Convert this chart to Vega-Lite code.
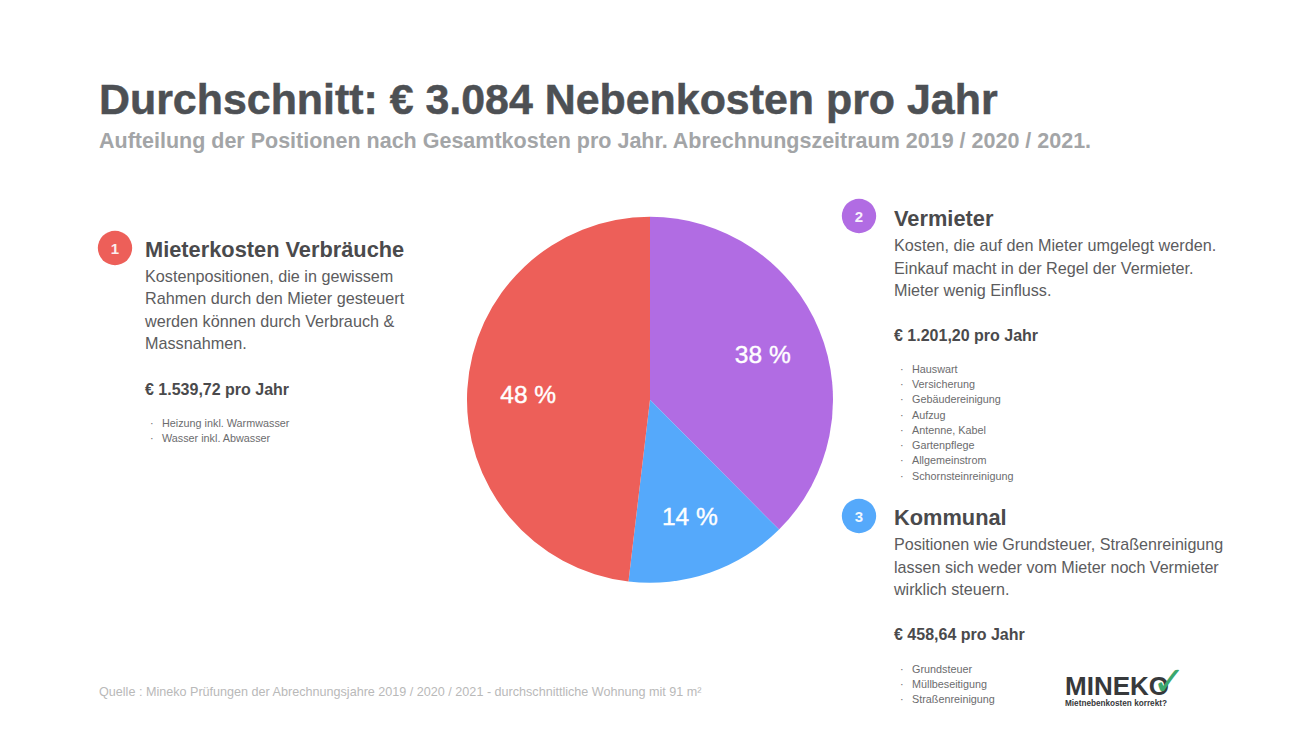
{
"$schema":"https://vega.github.io/schema/vega-lite/v6.json",
"width":1300,"height":731,"padding":0,
"autosize":{"type":"fit","contains":"padding"},
"background":"white",
"view":{"stroke":null},
"datasets":{"shares":[
{"block":"Vermieter","amount":1201.20,"label":"38 %","rank":1},
{"block":"Kommunal","amount":458.64,"label":"14 %","rank":2},
{"block":"Mieterkosten Verbräuche","amount":1539.72,"label":"48 %","rank":3}
]},
"config":{"text":{"font":"Liberation Sans","align":"left","baseline":"middle"}},
"resolve":{"scale":{"y":"independent"}},
"layer":[
{"data":{"name":"shares"},"mark":{"type":"arc","outerRadius":183},
 "encoding":{"x":{"datum":650,"type":"quantitative","scale":{"domain":[0,1300]},"axis":null},
 "y":{"datum":399.8,"type":"quantitative","scale":{"domain":[731,0]},"axis":null},
 "theta":{"field":"amount","type":"quantitative","stack":true},
 "order":{"field":"rank","type":"quantitative"},
 "color":{"field":"block","type":"nominal","legend":null,"scale":{"domain":["Mieterkosten Verbräuche","Vermieter","Kommunal"],"range":["#ed5f59","#b16ce3","#55a9fb"]}}}},
{"data":{"name":"shares"},"mark":{"type":"text","radius":122,"align":"center","dy":3,"fontSize":24.5,"color":"white","stroke":"white","strokeWidth":0.4},
 "encoding":{"x":{"datum":650,"type":"quantitative","axis":null},
 "y":{"datum":399.8,"type":"quantitative","scale":{"domain":[731,0]},"axis":null},
 "theta":{"field":"amount","type":"quantitative","stack":true},
 "order":{"field":"rank","type":"quantitative"},
 "text":{"field":"label"}}},
{"data":{"values":[{"t":"Durchschnitt: € 3.084 Nebenkosten pro Jahr"}]},"mark":{"type":"text","fontSize":42.9,"fontWeight":"bold","color":"#4d5054","stroke":"#4d5054","strokeWidth":0.5},
 "encoding":{"x":{"datum":99,"type":"quantitative","axis":null},"y":{"datum":101,"type":"quantitative","scale":{"domain":[731,0]},"axis":null},"text":{"field":"t"}}},
{"data":{"values":[{"t":"Aufteilung der Positionen nach Gesamtkosten pro Jahr. Abrechnungszeitraum 2019 / 2020 / 2021."}]},"mark":{"type":"text","fontSize":21.5,"fontWeight":"bold","color":"#a3a5a7"},
 "encoding":{"x":{"datum":99,"type":"quantitative","axis":null},"y":{"datum":142,"type":"quantitative","scale":{"domain":[731,0]},"axis":null},"text":{"field":"t"}}},
{"data":{"values":[{"t":"Quelle : Mineko Prüfungen der Abrechnungsjahre 2019 / 2020 / 2021 - durchschnittliche Wohnung mit 91 m²"}]},"mark":{"type":"text","fontSize":12.6,"color":"#b9b9b9"},
 "encoding":{"x":{"datum":99,"type":"quantitative","axis":null},"y":{"datum":691.5,"type":"quantitative","scale":{"domain":[731,0]},"axis":null},"text":{"field":"t"}}},

{"data":{"values":[{"n":"1"}]},"mark":{"type":"point","filled":true,"opacity":1,"size":1180,"color":"#ed5f59"},
 "encoding":{"x":{"datum":115,"type":"quantitative","axis":null},"y":{"datum":248,"type":"quantitative","scale":{"domain":[731,0]},"axis":null}}},
{"data":{"values":[{"n":"1"}]},"mark":{"type":"text","align":"center","fontSize":15,"fontWeight":"bold","color":"#fbeeee"},
 "encoding":{"x":{"datum":115,"type":"quantitative","axis":null},"y":{"datum":249,"type":"quantitative","scale":{"domain":[731,0]},"axis":null},"text":{"field":"n"}}},
{"data":{"values":[{"n":"2"}]},"mark":{"type":"point","filled":true,"opacity":1,"size":1180,"color":"#b16ce3"},
 "encoding":{"x":{"datum":859,"type":"quantitative","axis":null},"y":{"datum":216,"type":"quantitative","scale":{"domain":[731,0]},"axis":null}}},
{"data":{"values":[{"n":"2"}]},"mark":{"type":"text","align":"center","fontSize":15,"fontWeight":"bold","color":"#f8f0fc"},
 "encoding":{"x":{"datum":859,"type":"quantitative","axis":null},"y":{"datum":217,"type":"quantitative","scale":{"domain":[731,0]},"axis":null},"text":{"field":"n"}}},
{"data":{"values":[{"n":"3"}]},"mark":{"type":"point","filled":true,"opacity":1,"size":1180,"color":"#55a9fb"},
 "encoding":{"x":{"datum":859,"type":"quantitative","axis":null},"y":{"datum":516,"type":"quantitative","scale":{"domain":[731,0]},"axis":null}}},
{"data":{"values":[{"n":"3"}]},"mark":{"type":"text","align":"center","fontSize":15,"fontWeight":"bold","color":"#f0f7ff"},
 "encoding":{"x":{"datum":859,"type":"quantitative","axis":null},"y":{"datum":517,"type":"quantitative","scale":{"domain":[731,0]},"axis":null},"text":{"field":"n"}}},

{"data":{"values":[{"t":"Mieterkosten Verbräuche"}]},"mark":{"type":"text","fontSize":21.8,"fontWeight":"bold","color":"#4a4a4c"},
 "encoding":{"x":{"datum":145,"type":"quantitative","axis":null},"y":{"datum":249.5,"type":"quantitative","scale":{"domain":[731,0]},"axis":null},"text":{"field":"t"}}},
{"data":{"values":[{"t":"Kostenpositionen, die in gewissem","line":0},{"t":"Rahmen durch den Mieter gesteuert","line":1},{"t":"werden können durch Verbrauch &","line":2},{"t":"Massnahmen.","line":3}]},"mark":{"type":"text","fontSize":16.2,"color":"#5c5c5e"},
 "encoding":{"x":{"datum":145,"type":"quantitative","axis":null},"y":{"field":"line","type":"quantitative","scale":{"domain":[0,3],"range":[277,344]},"axis":null},"text":{"field":"t"}}},
{"data":{"values":[{"t":"€ 1.539,72 pro Jahr"}]},"mark":{"type":"text","fontSize":16,"fontWeight":"bold","color":"#4a4a4c"},
 "encoding":{"x":{"datum":145,"type":"quantitative","axis":null},"y":{"datum":389.5,"type":"quantitative","scale":{"domain":[731,0]},"axis":null},"text":{"field":"t"}}},
{"data":{"values":[{"t":"·\u2002\u00a0Heizung inkl. Warmwasser","line":0},{"t":"·\u2002\u00a0Wasser inkl. Abwasser","line":1}]},"mark":{"type":"text","fontSize":10.8,"color":"#6c6c6e"},
 "encoding":{"x":{"datum":150,"type":"quantitative","axis":null},"y":{"field":"line","type":"quantitative","scale":{"domain":[0,1],"range":[423.5,438.7]},"axis":null},"text":{"field":"t"}}},

{"data":{"values":[{"t":"Vermieter"}]},"mark":{"type":"text","fontSize":21.8,"fontWeight":"bold","color":"#4a4a4c"},
 "encoding":{"x":{"datum":894,"type":"quantitative","axis":null},"y":{"datum":218.5,"type":"quantitative","scale":{"domain":[731,0]},"axis":null},"text":{"field":"t"}}},
{"data":{"values":[{"t":"Kosten, die auf den Mieter umgelegt werden.","line":0},{"t":"Einkauf macht in der Regel der Vermieter.","line":1},{"t":"Mieter wenig Einfluss.","line":2}]},"mark":{"type":"text","fontSize":16.2,"color":"#5c5c5e"},
 "encoding":{"x":{"datum":894,"type":"quantitative","axis":null},"y":{"field":"line","type":"quantitative","scale":{"domain":[0,2],"range":[246,291]},"axis":null},"text":{"field":"t"}}},
{"data":{"values":[{"t":"€ 1.201,20 pro Jahr"}]},"mark":{"type":"text","fontSize":16,"fontWeight":"bold","color":"#4a4a4c"},
 "encoding":{"x":{"datum":894,"type":"quantitative","axis":null},"y":{"datum":336,"type":"quantitative","scale":{"domain":[731,0]},"axis":null},"text":{"field":"t"}}},
{"data":{"values":[{"t":"·\u2002\u00a0Hauswart","line":0},{"t":"·\u2002\u00a0Versicherung","line":1},{"t":"·\u2002\u00a0Gebäudereinigung","line":2},{"t":"·\u2002\u00a0Aufzug","line":3},{"t":"·\u2002\u00a0Antenne, Kabel","line":4},{"t":"·\u2002\u00a0Gartenpflege","line":5},{"t":"·\u2002\u00a0Allgemeinstrom","line":6},{"t":"·\u2002\u00a0Schornsteinreinigung","line":7}]},"mark":{"type":"text","fontSize":10.8,"color":"#6c6c6e"},
 "encoding":{"x":{"datum":900,"type":"quantitative","axis":null},"y":{"field":"line","type":"quantitative","scale":{"domain":[0,7],"range":[370,476.5]},"axis":null},"text":{"field":"t"}}},

{"data":{"values":[{"t":"Kommunal"}]},"mark":{"type":"text","fontSize":21.8,"fontWeight":"bold","color":"#4a4a4c"},
 "encoding":{"x":{"datum":894,"type":"quantitative","axis":null},"y":{"datum":517.5,"type":"quantitative","scale":{"domain":[731,0]},"axis":null},"text":{"field":"t"}}},
{"data":{"values":[{"t":"Positionen wie Grundsteuer, Straßenreinigung","line":0},{"t":"lassen sich weder vom Mieter noch Vermieter","line":1},{"t":"wirklich steuern.","line":2}]},"mark":{"type":"text","fontSize":16.1,"color":"#5c5c5e"},
 "encoding":{"x":{"datum":894,"type":"quantitative","axis":null},"y":{"field":"line","type":"quantitative","scale":{"domain":[0,2],"range":[545,590]},"axis":null},"text":{"field":"t"}}},
{"data":{"values":[{"t":"€ 458,64 pro Jahr"}]},"mark":{"type":"text","fontSize":16,"fontWeight":"bold","color":"#4a4a4c"},
 "encoding":{"x":{"datum":894,"type":"quantitative","axis":null},"y":{"datum":635,"type":"quantitative","scale":{"domain":[731,0]},"axis":null},"text":{"field":"t"}}},
{"data":{"values":[{"t":"·\u2002\u00a0Grundsteuer","line":0},{"t":"·\u2002\u00a0Müllbeseitigung","line":1},{"t":"·\u2002\u00a0Straßenreinigung","line":2}]},"mark":{"type":"text","fontSize":10.8,"color":"#6c6c6e"},
 "encoding":{"x":{"datum":900,"type":"quantitative","axis":null},"y":{"field":"line","type":"quantitative","scale":{"domain":[0,2],"range":[669.5,699.9]},"axis":null},"text":{"field":"t"}}},

{"data":{"values":[{"t":"MINEKO"}]},"mark":{"type":"text","fontSize":26,"fontWeight":"bold","color":"#37393b"},
 "encoding":{"x":{"datum":1065,"type":"quantitative","axis":null},"y":{"datum":687,"type":"quantitative","scale":{"domain":[731,0]},"axis":null},"text":{"field":"t"}}},
{"data":{"values":[{"t":"Mietnebenkosten korrekt?"}]},"mark":{"type":"text","fontSize":8.2,"fontWeight":"bold","color":"#37393b"},
 "encoding":{"x":{"datum":1065,"type":"quantitative","axis":null},"y":{"datum":703.5,"type":"quantitative","scale":{"domain":[731,0]},"axis":null},"text":{"field":"t"}}},
{"data":{"values":[{"t":"✓"}]},"mark":{"type":"text","font":"DejaVu Sans","fontSize":40,"fontWeight":"bold","align":"center","color":"#3ba86e"},
 "encoding":{"x":{"datum":1169,"type":"quantitative","axis":null},"y":{"datum":683,"type":"quantitative","scale":{"domain":[731,0]},"axis":null},"text":{"field":"t"}}}
]
}
